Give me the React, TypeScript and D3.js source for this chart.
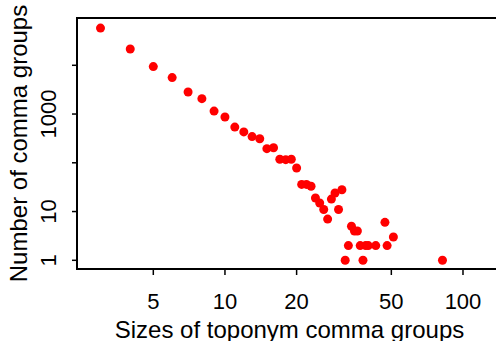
import * as d3 from "d3";

// group size (x) and number of groups with that size (y)
const sizes = [3, 4, 5, 6, 7, 8, 9, 10, 11, 12, 13, 14, 15, 16, 17, 18, 19, 20, 21, 22, 23, 24, 25, 26, 27, 28, 29, 30, 31, 32, 33, 34, 35, 36, 37, 38, 39, 40, 43, 47, 48, 51, 82];
const counts = [58000, 21600, 9400, 5600, 2830, 2070, 1150, 870, 540, 430, 345, 312, 195, 204, 118, 116, 118, 78, 36, 36, 33, 19, 15, 11, 7, 18, 24, 11, 28, 1, 2, 5, 4, 4, 2, 1, 2, 2, 2, 6, 2, 3, 1];

const xTicks = [5, 10, 20, 50, 100];
const yTicks = [1, 10, 100, 1000, 10000];
const yLabels = [1, 10, 1000];

const xTitle = "Sizes of toponym comma groups";
const yTitle = "Number of comma groups";

const width = 496;
const height = 341;
const plot = { left: 77, top: 18, right: 506, bottom: 269 };
const font = "'Liberation Sans', Arial, Helvetica, sans-serif";

const App = () => {
    const x = d3.scaleLog().domain([2.39, 151.6]).range([plot.left, plot.right]);
    const y = d3.scaleLog().domain([0.663, 93300]).range([plot.bottom, plot.top]);

    const points = sizes.map((s, i) => ({ size: s, count: counts[i] }));
    const midX = (plot.left + plot.right) / 2 - 2;
    const midY = (plot.top + plot.bottom) / 2;

    return (
        <svg
            width={width}
            height={height}
            style={{ position: "absolute", left: 0, top: 0, background: "white" }}
            fontFamily={font}
        >
            <rect
                x={plot.left}
                y={plot.top}
                width={plot.right - plot.left}
                height={plot.bottom - plot.top}
                fill="none"
                stroke="black"
                strokeWidth={2}
            />

            {xTicks.map((t) => (
                <g key={"x" + t}>
                    <line x1={x(t)} x2={x(t)} y1={plot.bottom} y2={plot.bottom + 6} stroke="black" strokeWidth={1.5} />
                    <text x={x(t)} y={309} textAnchor="middle" fontSize={22}>
                        {t}
                    </text>
                </g>
            ))}

            {yTicks.map((t) => (
                <line key={"y" + t} x1={plot.left - 5} x2={plot.left} y1={y(t)} y2={y(t)} stroke="black" strokeWidth={1.5} />
            ))}
            {yLabels.map((t) => (
                <text key={"yl" + t} transform={`translate(56,${y(t)}) rotate(-90)`} textAnchor="middle" fontSize={22}>
                    {t}
                </text>
            ))}

            {points.map((d, i) => (
                <circle key={i} cx={x(d.size)} cy={y(d.count)} r={4.5} fill="#ff0000" />
            ))}

            <text x={midX} y={338} textAnchor="middle" fontSize={24}>
                {xTitle}
            </text>
            <text transform={`translate(27,${midY}) rotate(-90)`} textAnchor="middle" fontSize={24}>
                {yTitle}
            </text>
        </svg>
    );
};

export default App;
